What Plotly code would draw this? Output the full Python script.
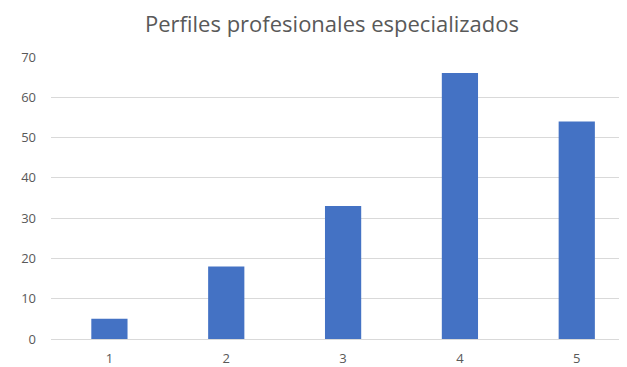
import plotly.graph_objects as go

categories = [1, 2, 3, 4, 5]
values = [5, 18, 33, 66, 54]
y_ticks = [0, 10, 20, 30, 40, 50, 60, 70]

OFF = 8  # default page body margin

fig = go.Figure()
fig.add_trace(go.Bar(
    x=categories, y=values,
    marker=dict(color="#4472C4", line=dict(width=0)),
    width=0.31,
))

W, H = 627 - OFF, 367 - OFF
fig.update_layout(
    width=W, height=H,
    margin=dict(l=51 - OFF, r=0, t=57 - OFF, b=28),
    paper_bgcolor="white", plot_bgcolor="white",
    showlegend=False,
    title=dict(
        text="Perfiles profesionales especializados",
        x=(332 - OFF) / W, xanchor="center", xref="container",
        y=1 - (24 - OFF) / H, yanchor="middle", yref="container",
        font=dict(family="Open Sans", size=22, color="#595959"),
    ),
    font=dict(family="Open Sans", size=13, color="#595959"),
)
fig.update_xaxes(
    range=[0.5, 5.43], tickmode="array", tickvals=categories,
    ticktext=[str(c) for c in categories],
    showgrid=False, zeroline=False, showline=False, ticks="",
    ticklabelstandoff=10,
    tickfont=dict(size=13, color="#595959"),
)
fig.update_yaxes(
    range=[0, 70], tickmode="array", tickvals=y_ticks,
    showgrid=True, gridcolor="#D9D9D9", gridwidth=1,
    zeroline=True, zerolinecolor="#D9D9D9", zerolinewidth=1,
    showline=False, ticks="", ticklabelstandoff=14,
    tickfont=dict(size=13, color="#595959"),
)

fig.write_html("out.html")
